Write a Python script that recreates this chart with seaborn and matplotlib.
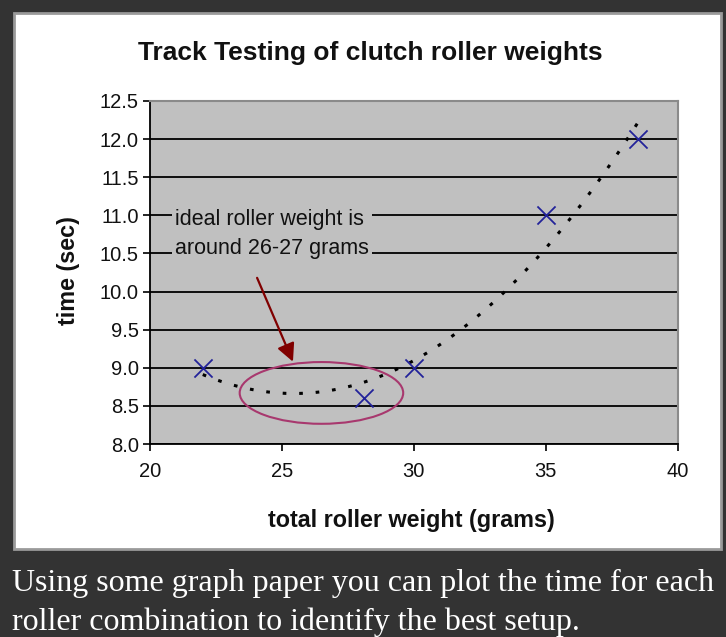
import matplotlib
matplotlib.use("Agg")
import matplotlib.pyplot as plt
import seaborn as sns
import pandas as pd
from matplotlib.patches import Ellipse, Rectangle

# ---- data ----
weights = [22, 28.1, 30, 35, 38.5]
times = [9.0, 8.6, 9.0, 11.0, 12.0]
x_ticks = [20, 25, 30, 35, 40]
y_ticks = [8.0, 8.5, 9.0, 9.5, 10.0, 10.5, 11.0, 11.5, 12.0, 12.5]
title = "Track Testing of clutch roller weights"
x_label = "total roller weight (grams)"
y_label = "time (sec)"
note = "ideal roller weight is\naround 26-27 grams"
caption = ("Using some graph paper you can plot the time for each\n"
           "roller combination to identify the best setup.")

df = pd.DataFrame({"weight": weights, "time": times})

sns.set_theme(style="white")
plt.rcParams["font.family"] = ["Liberation Sans", "DejaVu Sans"]

W, H = 726, 637
fig = plt.figure(figsize=(W / 100, H / 100), dpi=100, facecolor="#333333")

# white chart panel
fig.patches.append(Rectangle((14 / W, 1 - 549 / H), (721 - 14) / W, (549 - 13) / H,
                             transform=fig.transFigure, facecolor="white",
                             edgecolor="#9a9a9a", lw=2, zorder=-5))

L, R, T, B = 150, 677.5, 101, 444
ax = fig.add_axes([L / W, 1 - B / H, (R - L) / W, (B - T) / H])
ax.set_zorder(2)
ax.set_facecolor("#c0c0c0")

# trendline (polynomial, order 2)
sns.regplot(data=df, x="weight", y="time", order=2, ci=None, scatter=False,
            truncate=True, ax=ax,
            line_kws=dict(color="black", lw=2.2, linestyle=(0, (1.2, 4.2)), zorder=3))
# markers
sns.scatterplot(data=df, x="weight", y="time", marker="x", s=170, color="#22229a",
                linewidth=1.3, ax=ax, zorder=4)

ax.set_xlim(20, 40)
ax.set_ylim(8.0, 12.5)
ax.set_xticks(x_ticks)
ax.set_yticks(y_ticks)
ax.set_xticklabels([str(v) for v in x_ticks], fontsize=14.5)
ax.set_yticklabels([f"{v:.1f}" for v in y_ticks], fontsize=14.5)
ax.yaxis.grid(True, color="black", lw=1.3)
ax.xaxis.grid(False)
ax.set_axisbelow(True)
ax.tick_params(axis="y", direction="out", length=5, width=1.2, color="black",
               left=True, pad=3, labelcolor="#111111")
ax.tick_params(axis="x", direction="out", length=5, width=1.2, color="black",
               bottom=True, pad=8, labelcolor="#111111")
for s in ["left", "bottom"]:
    ax.spines[s].set_color("black")
    ax.spines[s].set_linewidth(1.3)
for s in ["top", "right"]:
    ax.spines[s].set_color("#8a8a8a")
    ax.spines[s].set_linewidth(1.5)

ax.set_xlabel(x_label, fontsize=16.8, fontweight="bold", color="#111111", va="center")
ax.xaxis.set_label_coords((411 - L) / (R - L), -(520 - B) / (B - T))
ax.set_ylabel(y_label, fontsize=16.8, fontweight="bold", color="#111111", va="center")
ax.yaxis.set_label_coords((68 - L) / (R - L), (B - 271) / (B - T))

fig.text(370 / W, 1 - 53 / H, title, ha="center", va="center",
         fontsize=19, fontweight="bold", color="#111111")

# annotation text
ax.text(20.95, 10.76, note, fontsize=15.5, color="#111111", ha="left", va="center",
        linespacing=1.5,
        bbox=dict(boxstyle="square,pad=0.15", facecolor="#c0c0c0", edgecolor="none"),
        zorder=5)

# arrow
ax.annotate("", xy=(25.42, 9.08), xytext=(24.06, 10.18),
            arrowprops=dict(arrowstyle="-|>,head_length=0.9,head_width=0.45",
                            color="#800000", lw=1.6, shrinkA=0, shrinkB=0),
            zorder=5)

# ellipse
ax.add_patch(Ellipse((26.5, 8.67), 6.2, 0.81, facecolor="none",
                     edgecolor="#a8386e", lw=1.5, zorder=5))

# caption
fig.text(12 / W, 1 - 603 / H, caption, ha="left", va="center", color="white",
         fontsize=23, family=["Liberation Serif", "DejaVu Serif"], linespacing=1.38)

fig.savefig("out.png", dpi=100, facecolor=fig.get_facecolor())
